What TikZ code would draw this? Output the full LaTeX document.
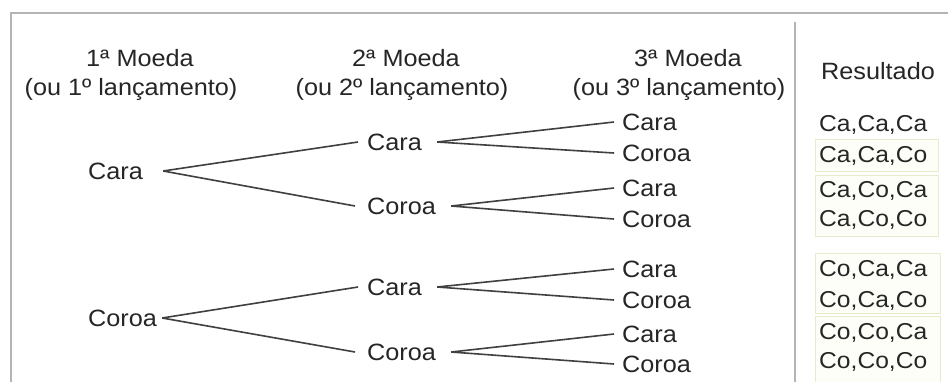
\documentclass[tikz,border=0pt]{standalone}
\usepackage{fontspec}
\setmainfont[FakeStretch=1.07]{Liberation Sans}
\definecolor{txt}{HTML}{262626}
\definecolor{ln}{HTML}{404040}
\definecolor{frame}{HTML}{B4B4B4}
\definecolor{boxln}{HTML}{E6ECCB}
\definecolor{boxfill}{HTML}{FDFEF7}
\begin{document}
\begin{tikzpicture}[x=1pt,y=-1pt,
  lbl/.style={inner sep=0pt,text=txt,font=\fontsize{23.6}{27}\selectfont},
  res/.style={inner sep=0pt,text=txt,anchor=west,font=\fontsize{23}{26}\selectfont},
  branch/.style={draw=ln,line width=1.6pt},
  resbox/.style={draw=boxln,fill=boxfill,line width=1pt}]
\useasboundingbox[fill=white] (0,0) rectangle (948,381);
% frame
\draw[frame,line width=2pt] (11,390) -- (11,13) -- (960,13);
\draw[frame,line width=2.5pt] (795,22) -- (795,390);
% result boxes
\draw[resbox] (815,139) rectangle (938,171);
\draw[resbox] (815,175) rectangle (938,236);
\draw[resbox] (815,253) rectangle (940,313);
\draw[resbox] (815,316) rectangle (940,392);
% headers
\node[lbl] (h1a) at (140,58) {1ª Moeda};
\node[lbl] (h1b) at (131,89) {(ou 1º lançamento)};
\node[lbl] (h2a) at (406,58) {2ª Moeda};
\node[lbl] (h2b) at (402,89) {(ou 2º lançamento)};
\node[lbl] (h3a) at (688,58) {3ª Moeda};
\node[lbl] (h3b) at (679,89) {(ou 3º lançamento)};
\node[lbl] (hr) at (878,71) {Resultado};
% level 1
\node[lbl,anchor=west] (a1) at (88,171) {Cara};
\node[lbl,anchor=west] (a2) at (88,318) {Coroa};
% level 2
\node[lbl,anchor=west] (b1) at (367,142) {Cara};
\node[lbl,anchor=west] (b2) at (367,206) {Coroa};
\node[lbl,anchor=west] (b3) at (367,287) {Cara};
\node[lbl,anchor=west] (b4) at (367,352) {Coroa};
% level 3
\node[lbl,anchor=west] (c1) at (622,122) {Cara};
\node[lbl,anchor=west] (c2) at (622,153) {Coroa};
\node[lbl,anchor=west] (c3) at (622,188) {Cara};
\node[lbl,anchor=west] (c4) at (622,219) {Coroa};
\node[lbl,anchor=west] (c5) at (622,269) {Cara};
\node[lbl,anchor=west] (c6) at (622,300) {Coroa};
\node[lbl,anchor=west] (c7) at (622,334) {Cara};
\node[lbl,anchor=west] (c8) at (622,364) {Coroa};
% branches level 1 -> 2
\draw[branch] ([xshift=20pt]a1.east) -- ([xshift=-9pt]b1.west);
\draw[branch] ([xshift=20pt]a1.east) -- ([xshift=-12pt]b2.west);
\draw[branch] ([xshift=5pt]a2.east) -- ([xshift=-9pt]b3.west);
\draw[branch] ([xshift=5pt]a2.east) -- ([xshift=-12pt]b4.west);
% branches level 2 -> 3
\draw[branch] ([xshift=15pt]b1.east) -- ([xshift=-8pt]c1.west);
\draw[branch] ([xshift=15pt]b1.east) -- ([xshift=-8pt]c2.west);
\draw[branch] ([xshift=15pt]b2.east) -- ([xshift=-8pt]c3.west);
\draw[branch] ([xshift=15pt]b2.east) -- ([xshift=-8pt]c4.west);
\draw[branch] ([xshift=15pt]b3.east) -- ([xshift=-8pt]c5.west);
\draw[branch] ([xshift=15pt]b3.east) -- ([xshift=-8pt]c6.west);
\draw[branch] ([xshift=15pt]b4.east) -- ([xshift=-8pt]c7.west);
\draw[branch] ([xshift=15pt]b4.east) -- ([xshift=-8pt]c8.west);
% results
\node[res] (r1) at (819,125) {Ca,Ca,Ca};
\node[res] (r2) at (819,156) {Ca,Ca,Co};
\node[res] (r3) at (819,191) {Ca,Co,Ca};
\node[res] (r4) at (819,220) {Ca,Co,Co};
\node[res] (r5) at (819,270) {Co,Ca,Ca};
\node[res] (r6) at (819,301) {Co,Ca,Co};
\node[res] (r7) at (819,333) {Co,Co,Ca};
\node[res] (r8) at (819,362) {Co,Co,Co};
\end{tikzpicture}
\end{document}
